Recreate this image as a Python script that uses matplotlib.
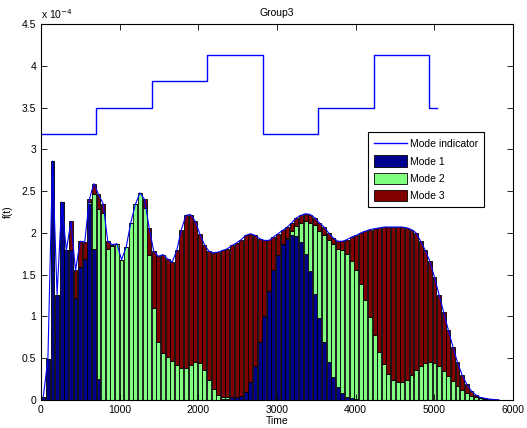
import numpy as np
import matplotlib
matplotlib.use('Agg')
import matplotlib.pyplot as plt

# values in units of 1e-4
mode1 = [0.04, 0.49, 2.86, 1.26, 2.37, 1.79, 1.79, 1.22, 1.59, 1.69,
         2.35, 1.81, 0.25, 0, 0, 0, 0, 0, 0, 0,
         0, 0, 0, 0, 0, 0, 0, 0, 0, 0,
         0, 0, 0, 0, 0, 0, 0, 0, 0, 0.01,
         0.01, 0.03, 0.03, 0.05, 0.10, 0.22, 0.41, 0.69, 1.00, 1.31,
         1.56, 1.74, 1.87, 1.93, 1.98, 1.96, 1.89, 1.75, 1.54, 1.27,
         0.98, 0.70, 0.46, 0.28, 0.16, 0.08, 0.04, 0.02, 0.01, 0,
         0, 0, 0, 0, 0, 0, 0, 0, 0, 0,
         0, 0, 0, 0, 0, 0, 0, 0, 0, 0,
         0, 0, 0, 0, 0, 0, 0, 0, 0, 0]
mode2 = [0, 0, 0, 0, 0, 0, 0, 0, 0, 0,
         0.02, 0.65, 2.04, 2.24, 1.81, 1.84, 1.87, 1.68, 1.83, 2.12,
         2.34, 2.48, 2.30, 1.74, 1.10, 0.69, 0.56, 0.52, 0.47, 0.42,
         0.38, 0.38, 0.42, 0.45, 0.44, 0.36, 0.24, 0.13, 0.06, 0.02,
         0.02, 0, 0, 0, 0, 0, 0, 0, 0, 0,
         0, 0, 0, 0.01, 0.04, 0.12, 0.23, 0.39, 0.58, 0.83,
         1.04, 1.27, 1.45, 1.59, 1.65, 1.72, 1.71, 1.64, 1.55, 1.39,
         1.20, 0.99, 0.78, 0.58, 0.43, 0.31, 0.24, 0.21, 0.21, 0.24,
         0.30, 0.36, 0.41, 0.44, 0.45, 0.44, 0.41, 0.35, 0.29, 0.23,
         0.17, 0.12, 0.08, 0.05, 0.03, 0.02, 0.01, 0.005, 0.003, 0.002]
mode3 = [0, 0, 0, 0, 0, 0, 0.35, 0.33, 0.31, 0.20,
         0.03, 0.13, 0.17, 0.11, 0.09, 0.02, 0, 0, 0, 0,
         0, 0, 0.10, 0.32, 0.68, 1.03, 1.18, 1.17, 1.18, 1.37,
         1.66, 1.83, 1.80, 1.69, 1.55, 1.50, 1.54, 1.63, 1.71, 1.76,
         1.78, 1.82, 1.85, 1.87, 1.87, 1.77, 1.56, 1.24, 0.91, 0.60,
         0.39, 0.25, 0.16, 0.13, 0.10, 0.10, 0.09, 0.09, 0.10, 0.08,
         0.10, 0.10, 0.09, 0.07, 0.09, 0.10, 0.17, 0.29, 0.41, 0.61,
         0.82, 1.05, 1.27, 1.48, 1.64, 1.76, 1.83, 1.86, 1.86, 1.82,
         1.74, 1.64, 1.49, 1.35, 1.21, 1.03, 0.85, 0.70, 0.55, 0.41,
         0.28, 0.18, 0.11, 0.06, 0.03, 0.01, 0.01, 0.005, 0.002, 0.001]

# mode indicator (stairs)
mode_t = [0, 705, 1410, 2115, 2820, 3525, 4230, 4935, 5037]
mode_level = [3.18, 3.50, 3.82, 4.13, 3.18, 3.50, 4.13, 3.50, 3.50]

dt = 58.5
t = (np.arange(len(mode1)) + 0.5) * dt
b1 = np.array(mode1)
b2 = np.array(mode2)
b3 = np.array(mode3)
total = b1 + b2 + b3

fs = 7.5
plt.rcParams['font.family'] = ['Liberation Sans', 'DejaVu Sans']
plt.rcParams['font.size'] = fs

fig = plt.figure(figsize=(5.27, 4.28), dpi=100)
ax = fig.add_axes([41/527, 1-400/428, 472/527, 376/428])

line, = ax.step(mode_t, mode_level, where='post', color='#0000ff', lw=1.0, label='Mode indicator')
ax.plot(t, total, color='#0000ff', lw=0.8)
w = dt * 0.85
h1 = ax.bar(t, b1, width=w, color='#00008f', edgecolor='black', lw=0.6, label='Mode 1')
h2 = ax.bar(t, b2, width=w, bottom=b1, color='#80ff80', edgecolor='black', lw=0.6, label='Mode 2')
h3 = ax.bar(t, b3, width=w, bottom=b1+b2, color='#800000', edgecolor='black', lw=0.6, label='Mode 3')

ax.set_xlim(0, 6000)
ax.set_ylim(0, 4.5)
ax.set_xticks(np.arange(0, 6001, 1000))
ax.set_yticks(np.arange(0, 4.51, 0.5))
ax.set_yticklabels(['0', '0.5', '1', '1.5', '2', '2.5', '3', '3.5', '4', '4.5'])
ax.tick_params(direction='in', top=True, right=True, length=4, width=0.6, labelsize=fs)
for s in ax.spines.values():
    s.set_linewidth(0.8)
ax.text(0, 1.008, r'x 10$^{-4}$', transform=ax.transAxes, fontsize=fs, va='bottom')
ax.set_title('Group3', fontsize=fs, pad=6)
ax.set_xlabel('Time', fontsize=fs, labelpad=1)
ax.set_ylabel('f(t)', fontsize=fs, labelpad=6)

leg = ax.legend(handles=[line, h1, h2, h3], loc='upper right', bbox_to_anchor=(0.9386, 0.712),
                borderaxespad=0, fancybox=False, edgecolor='black', framealpha=1,
                handlelength=3.1, handleheight=1.25, labelspacing=0.62, borderpad=0.55,
                handletextpad=0.35, fontsize=fs)
leg.get_frame().set_linewidth(0.8)

fig.savefig('out.png', dpi=100)
